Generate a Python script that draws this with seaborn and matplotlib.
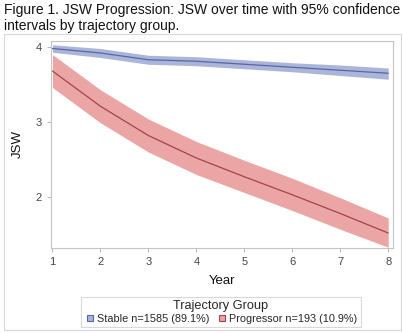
import numpy as np
import pandas as pd
import seaborn as sns
import matplotlib.pyplot as plt
from matplotlib.patches import Rectangle
from matplotlib.lines import Line2D

years = [1, 2, 3, 4, 5, 6, 7, 8]
stable_mean = [3.98, 3.92, 3.83, 3.81, 3.77, 3.73, 3.69, 3.65]
stable_lo = [3.93, 3.86, 3.77, 3.75, 3.71, 3.67, 3.62, 3.57]
stable_hi = [4.03, 3.98, 3.89, 3.87, 3.83, 3.79, 3.76, 3.72]
prog_mean = [3.68, 3.21, 2.82, 2.52, 2.27, 2.03, 1.78, 1.52]
prog_lo = [3.46, 2.99, 2.60, 2.30, 2.06, 1.82, 1.57, 1.33]
prog_hi = [3.90, 3.43, 3.04, 2.74, 2.49, 2.25, 1.99, 1.72]
groups = ["Stable n=1585 (89.1%)", "Progressor n=193 (10.9%)"]
xticks = [1, 2, 3, 4, 5, 6, 7, 8]
yticks = [2, 3, 4]

sns.set_theme(style="white")
plt.rcParams['font.family'] = ['Liberation Sans', 'DejaVu Sans']

df = pd.DataFrame({
    "Year": years * 2,
    "JSW": stable_mean + prog_mean,
    "lo": stable_lo + prog_lo,
    "hi": stable_hi + prog_hi,
    "Group": [groups[0]] * 8 + [groups[1]] * 8,
})

line_cols = {groups[0]: "#5766a6", groups[1]: "#a2444c"}
band_cols = {groups[0]: "#abb5d9", groups[1]: "#eba5a5"}

fig = plt.figure(figsize=(4.03, 3.33), dpi=100)
W, H = 403, 333
ax = fig.add_axes([51 / W, 1 - 248 / H, (393 - 51) / W, (248 - 41) / H])

for g in groups:
    d = df[df.Group == g]
    ax.fill_between(d.Year, d.lo, d.hi, color=band_cols[g], lw=0, zorder=1)
sns.lineplot(data=df, x="Year", y="JSW", hue="Group", palette=line_cols,
             ax=ax, lw=0.9, legend=False, zorder=2)

ax.set_xlim(0.97, 8.1)
ax.set_ylim(1.32, 4.08)
ax.set_xticks(xticks)
ax.set_yticks(yticks)
ax.tick_params(axis="both", which="both", labelsize=8, labelcolor="#444444",
               length=3, width=0.6, direction="out", bottom=True, left=True,
               color="#aaaaaa")
for s in ax.spines.values():
    s.set_color("#c4c4c4")
    s.set_linewidth(0.8)
ax.set_xlabel("Year", fontsize=9.5, color="#111111", labelpad=6)
ax.set_ylabel("JSW", fontsize=9.5, color="#111111")
ax.yaxis.set_label_coords(-0.08, 0.5)

fig.text(4 / W, 1 - 3 / H, "Figure 1. JSW Progression: JSW over time with 95% confidence\nintervals by trajectory group.",
         ha="left", va="top", fontsize=10.0, color="#111111", linespacing=1.15)

# graph border
fig.patches.append(Rectangle((4 / W, 1 - 330 / H), (401 - 4) / W, (330 - 34) / H,
                             transform=fig.transFigure, fill=False, ec="#d8d8d8", lw=0.8))

handles = [Line2D([], [], marker="s", ls="none", markersize=5,
                  markerfacecolor=band_cols[g], markeredgecolor=line_cols[g], markeredgewidth=0.8)
           for g in groups]
leg = fig.legend(handles, groups, loc="center", bbox_to_anchor=(221 / W, 1 - 312 / H),
                 ncol=2, fontsize=7.8, title="Trajectory Group", title_fontsize=9.2,
                 frameon=True, fancybox=False, handletextpad=0.2, columnspacing=0.6,
                 borderpad=0.3, handlelength=1.0, labelspacing=0.1)
leg.get_frame().set_edgecolor("#d0d0d0")
leg.get_frame().set_linewidth(0.8)
leg._legend_box.sep = 1

fig.savefig("out.png", dpi=100)
